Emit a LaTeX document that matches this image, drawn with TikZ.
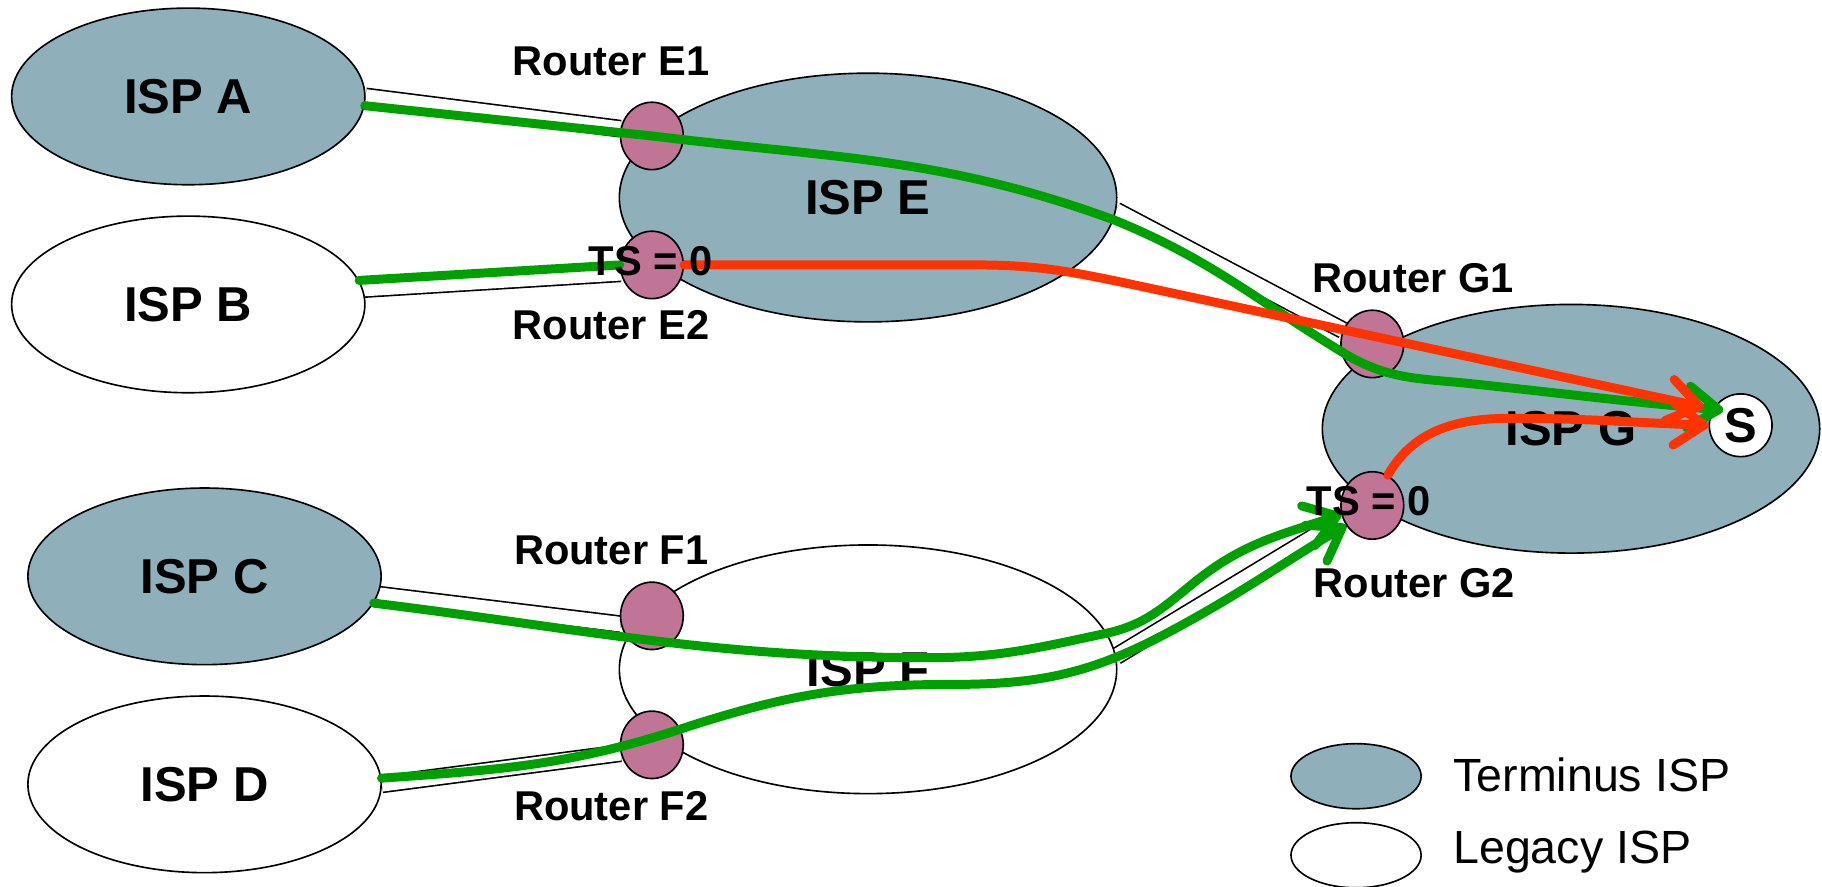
\documentclass[tikz,border=0pt]{standalone}
\usepackage{fontspec}
\setmainfont{Liberation Sans}
\usetikzlibrary{arrows.meta,shapes.geometric,backgrounds}

\definecolor{terminus}{RGB}{143,176,186}
\definecolor{routerpink}{RGB}{192,116,150}
\definecolor{pathgreen}{RGB}{0,160,0}
\definecolor{pathred}{RGB}{255,51,0}

\tikzset{
  isp/.style={ellipse, draw, line width=0.4pt, inner sep=0pt, font=\fontsize{12}{14}\selectfont\bfseries},
  smallisp/.style={isp, minimum width=3.04cm, minimum height=1.52cm},
  bigisp/.style={isp, minimum width=4.28cm, minimum height=2.14cm},
  terminusisp/.style={fill=terminus},
  legacyisp/.style={fill=white},
  router/.style={ellipse, draw, line width=0.4pt, fill=routerpink, inner sep=0pt, minimum width=0.54cm, minimum height=0.58cm},
  rlabel/.style={font=\fontsize{10.2}{12}\selectfont\bfseries, inner sep=0pt},
  link/.style={draw=black, line width=0.4pt, double=white, double distance=1.25mm},
  greenpath/.style={draw=pathgreen, line width=2.2pt, line cap=round, line join=round},
  redpath/.style={draw=pathred, line width=2.2pt, line cap=round, line join=round},
  barb/.style={-{Straight Barb[round,length=2.6mm,width=3.6mm]}},
  legtext/.style={font=\fontsize{11.4}{13}\selectfont, anchor=base west, inner sep=0pt}
}

\begin{document}
\begin{tikzpicture}

 \useasboundingbox (0,0) rectangle (15.68,-7.63);

 \node[smallisp,terminusisp] (ispA) at (1.62,-0.83) {ISP A};
 \node[smallisp,legacyisp] (ispB) at (1.62,-2.62) {ISP B};
 \node[smallisp,terminusisp] (ispC) at (1.76,-4.96) {ISP C};
 \node[smallisp,legacyisp] (ispD) at (1.76,-6.75) {ISP D};

 \node[bigisp,terminusisp] (ispE) at (7.47,-1.70) {ISP E};
 \node[bigisp,legacyisp] (ispF) at (7.47,-5.76) {ISP F};
 \node[bigisp,terminusisp] (ispG) at (13.52,-3.69) {ISP G};

 \node[smallisp,terminusisp,minimum width=1.12cm,minimum height=0.56cm] (legT) at (11.67,-6.68) {};
 \node[smallisp,legacyisp,minimum width=1.12cm,minimum height=0.56cm] (legL) at (11.67,-7.36) {};
 \node[legtext] (legTtext) at (12.50,-6.81) {Terminus ISP};
 \node[legtext] (legLtext) at (12.50,-7.43) {Legacy ISP};

 \node[router] (rE1) at (5.61,-1.17) {};
 \node[router] (rE2) at (5.61,-2.28) {};
 \node[router] (rF1) at (5.61,-5.30) {};
 \node[router] (rF2) at (5.61,-6.41) {};
 \node[router] (rG1) at (11.81,-2.96) {};
 \node[router] (rG2) at (11.81,-4.35) {};

 \node[circle, draw, line width=0.4pt, fill=white, minimum size=0.54cm, inner sep=0pt, font=\fontsize{12}{14}\selectfont\bfseries] (s) at (14.98,-3.66) {S};

 \begin{scope}[on background layer]
 \draw[link] (ispA.east) -- (rE1.167);
 \draw[link] (ispB.5) -- (rE2.195);
 \draw[link] (ispC.-6) -- (rF1.195);
 \draw[link] (ispD.east) -- (rF2.195);
 \draw[link] (ispE.-3) -- (rG1.155);
 \draw[link] (ispF.3) -- (rG2.205);
 \end{scope}

 \draw[greenpath,barb,shorten >=-0.9mm] (ispA.-3) -- (rE1.center) to[out=-7,in=160] (9.58,-1.89) to[out=-22,in=149] (11.6,-3.06) to[out=-30,in=174] (12.64,-3.30) to[out=-6,in=175] (s.150);
 \draw[greenpath] (ispB.8) -- (rE2.west);
 \draw[greenpath,barb] (ispC.-9) to[out=-7,in=180] (8.0,-5.66) to[out=0,in=-168] (9.52,-5.45) to[out=12,in=-141] (10.28,-5.01) to[out=39,in=-161] (rG2.196);
 \draw[greenpath,barb] (ispD.2) to[out=4,in=-162] (5.87,-6.27) to[out=18,in=180] (8.2,-5.89) to[out=0,in=-152] (10.04,-5.45) to[out=28,in=-149] (rG2.217);

 \draw[redpath,barb,shorten >=0.8mm] (rE2.east) -- (8.4,-2.28) to[out=0,in=168] (9.8,-2.46) -- (s.150);
 \draw[redpath,barb] (rG2.63) to[out=60,in=180] (13.0,-3.60) to[out=0,in=178] (s.west);

 \node[rlabel] (lE1) at (5.26,-0.53) {Router E1};
 \node[rlabel] (lE2) at (5.26,-2.80) {Router E2};
 \node[rlabel] (lF1) at (5.26,-4.74) {Router F1};
 \node[rlabel] (lF2) at (5.26,-6.94) {Router F2};
 \node[rlabel] (lG1) at (12.16,-2.39) {Router G1};
 \node[rlabel] (lG2) at (12.17,-5.02) {Router G2};
 \node[rlabel] (tsE) at (5.60,-2.25) {TS = 0};
 \node[rlabel] (tsG) at (11.78,-4.31) {TS = 0};

\end{tikzpicture}
\end{document}
